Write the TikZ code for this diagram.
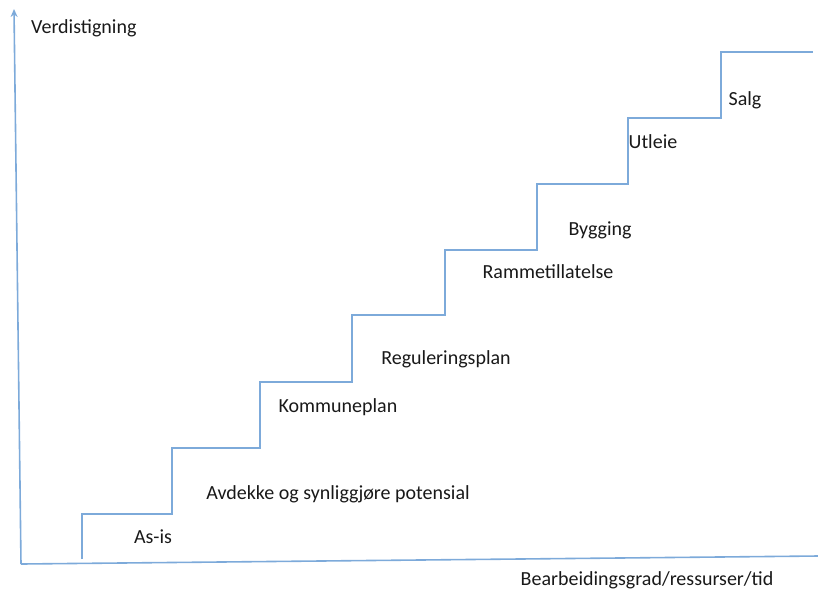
\documentclass[tikz,border=0pt]{standalone}
\usepackage{fontspec}
\setmainfont{Carlito}
\usetikzlibrary{arrows.meta}

\definecolor{axisblue}{RGB}{125,170,218}
\definecolor{labelgray}{RGB}{25,25,25}

\tikzset{
  axisline/.style={axisblue, line width=1.6pt},
  stairline/.style={axisblue, line width=1.6pt, line join=miter},
  steplabel/.style={text=labelgray, font=\fontsize{20}{24}\selectfont, inner sep=0pt}
}

\begin{document}
\begin{tikzpicture}[x=1pt, y=-1pt]
      \useasboundingbox (0,0) rectangle (818,590);

      % axes
      \coordinate (origin) at (21,564);
      \coordinate (ytip) at (14,9);
      \coordinate (xend) at (818,556);
      \draw[axisline, -{Stealth[length=8pt, width=7pt]}] (origin) -- (ytip);
      \draw[axisline] (origin) -- (xend);

      % axis titles
      \node[steplabel, anchor=west] (yname) at (31,28) {Verdistigning};
      \node[steplabel] (xname) at (647,580) {Bearbeidingsgrad/ressurser/tid};

      % the staircase
      \draw[stairline] (82,559) |- (172,514) |- (260,448) |- (352,382)
            |- (445,315) |- (537,250) |- (628,184) |- (721,118) |- (813,52);

      % one label on each step
      \node[steplabel] (asis) at (153,537) {As-is};
      \node[steplabel] (avdekke) at (338,494) {Avdekke og synliggjøre potensial};
      \node[steplabel] (kommune) at (338,407) {Kommuneplan};
      \node[steplabel] (regulering) at (446,359) {Reguleringsplan};
      \node[steplabel] (ramme) at (548,272) {Rammetillatelse};
      \node[steplabel] (bygging) at (600,230) {Bygging};
      \node[steplabel] (utleie) at (653,142) {Utleie};
      \node[steplabel] (salg) at (745,100) {Salg};
    \end{tikzpicture}
\end{document}
